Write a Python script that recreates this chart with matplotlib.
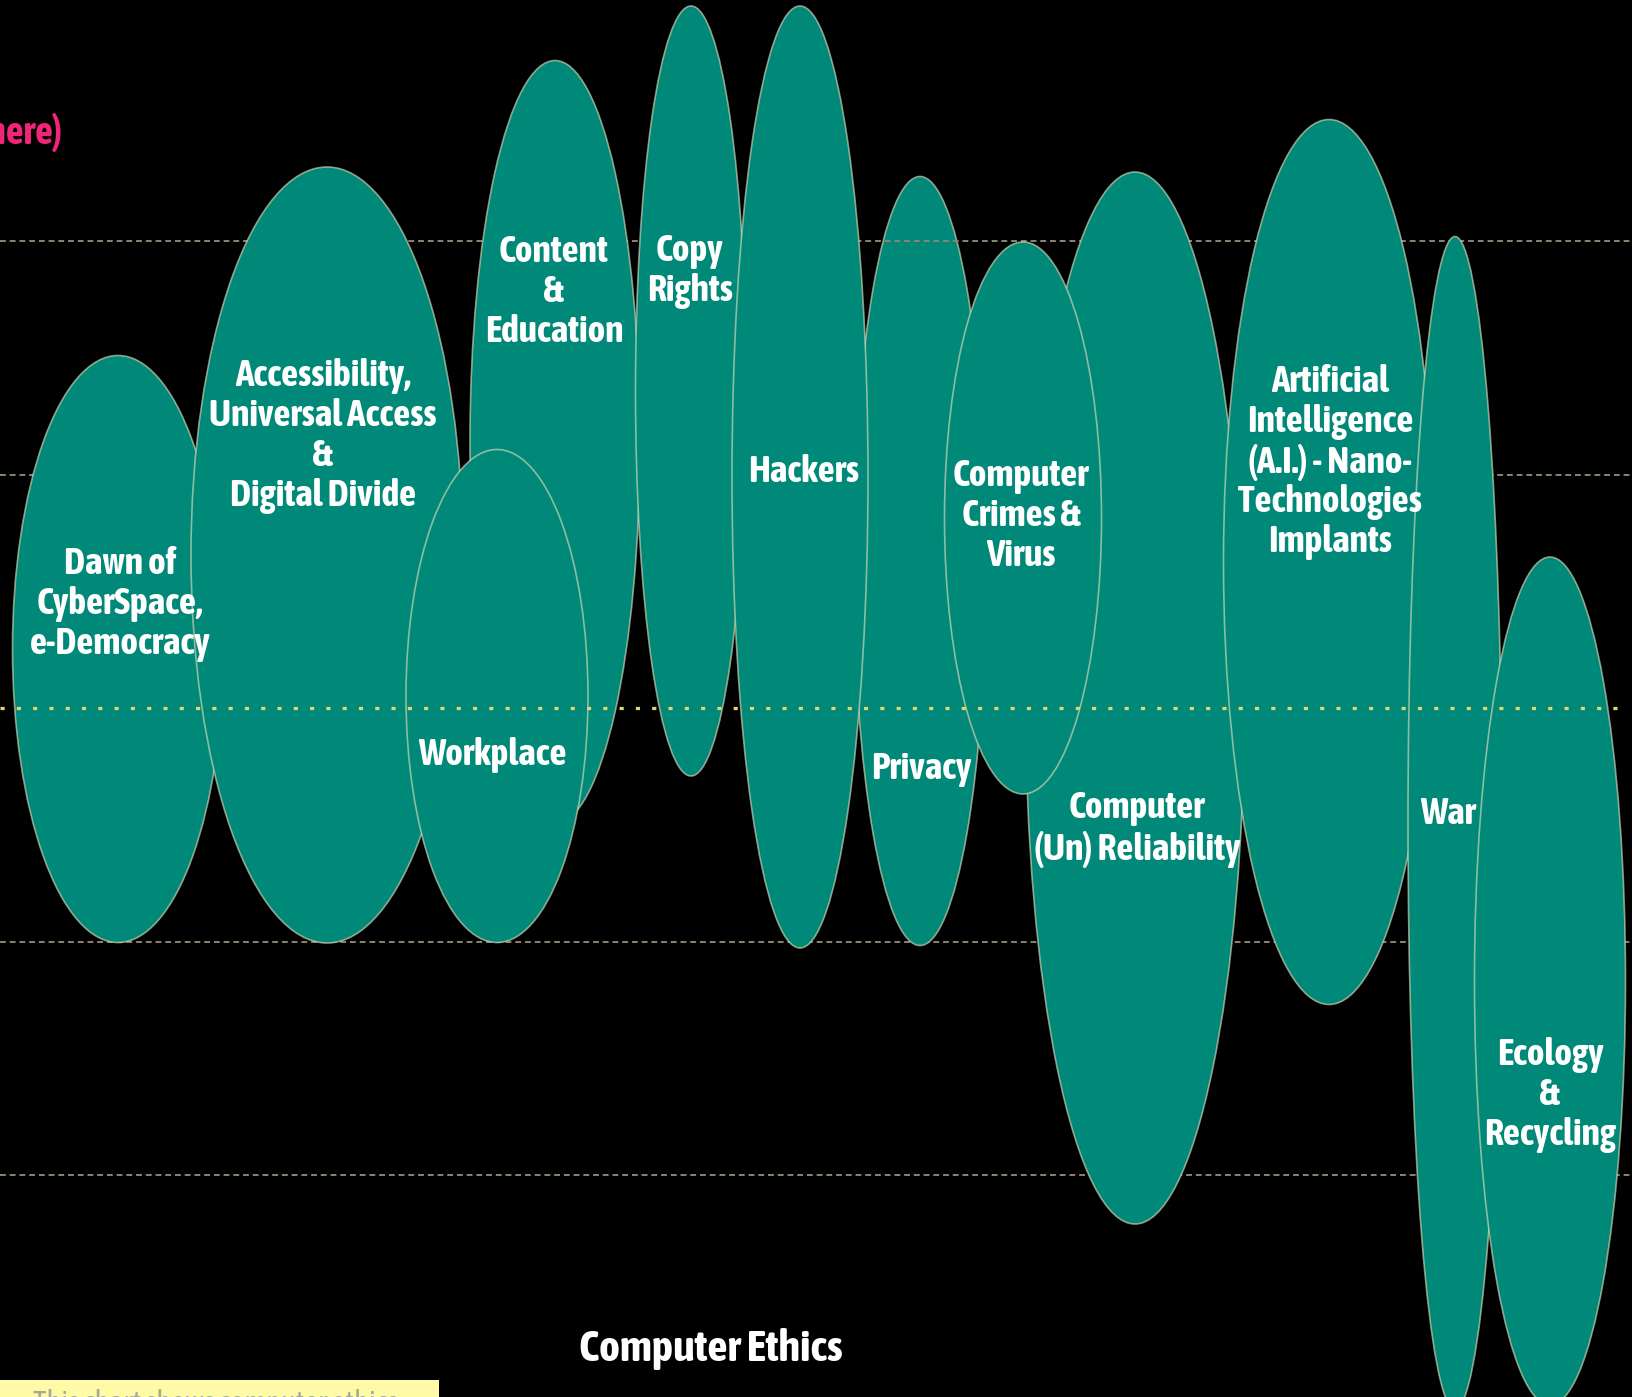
import matplotlib
matplotlib.use("Agg")
import matplotlib.pyplot as plt
from matplotlib.patches import Ellipse, Rectangle
from matplotlib import font_manager as fm

# ---- data (in pixel units of the 1633x1397 canvas) ----
topics = ["Dawn of\nCyberSpace,\ne-Democracy",
          "Accessibility,\nUniversal Access\n&\nDigital Divide",
          "Content\n&\nEducation",
          "Workplace",
          "Copy\nRights",
          "Hackers",
          "Privacy",
          "Computer\nCrimes &\nVirus",
          "Computer\n(Un) Reliability",
          "Artificial\nIntelligence\n(A.I.) - Nano-\nTechnologies\nImplants",
          "War",
          "Ecology\n&\nRecycling"]
center_x = [118, 327, 555, 497, 691, 800, 920, 1023, 1135, 1329, 1455, 1550]
center_y = [649, 555, 442, 696, 391, 477, 561, 518, 698, 562, 823, 981]
span_w = [211, 272, 170, 182, 111, 136, 133, 157, 219, 211, 94, 151]
span_h = [587, 776, 763, 493, 770, 942, 769, 552, 1052, 885, 1173, 848]
label_x = [120, 323, 554, 492, 690, 804, 921, 1021, 1137, 1330, 1448, 1550]
label_y = [604, 436, 292, 755, 271, 472, 769, 516, 829, 462, 814, 1095]
draw_order = [2, 3, 4, 5, 6, 7, 1, 9, 8, 10, 11, 12]

guide_y = [241, 475, 942, 1175]
mid_y = 708
title = "Computer Ethics"
corner_text = "(move mouse here)"
footer_text = "This chart shows computer ethics"

# ---- pick a condensed / narrow bold face if one is installed ----
cond_name = None
cond_stretch = "normal"
for f in fm.fontManager.ttflist:
    n = f.name
    if ("Narrow" in n or "Condensed" in n) and f.weight in (600, 700, 800, "bold"):
        cond_name = n
        break
if cond_name is None:
    for f in fm.fontManager.ttflist:
        if str(f.stretch).startswith("cond") or f.stretch in (300, 375):
            cond_name = f.name
            cond_stretch = "condensed"
            break
if cond_name is None:
    cond_name = "DejaVu Sans"
font = [cond_name, "DejaVu Sans"]
narrow = cond_name != "DejaVu Sans" or cond_stretch == "condensed"
fs = 27 if narrow else 20
ls = 1.14 if narrow else 1.2

W, H = 1633, 1397
fig = plt.figure(figsize=(W / 100, H / 100), dpi=100, facecolor="black")
ax = fig.add_axes([0, 0, 1, 1])
ax.set_xlim(0, W)
ax.set_ylim(H, 0)
ax.set_facecolor("black")
ax.axis("off")

# gray dashed guide lines: the top one crosses over "Privacy"
for k, gy in enumerate(guide_y):
    ax.axhline(gy, color="#8d8373", lw=1.4, dashes=(3, 2),
               zorder=5 if k == 0 else 1)

fill = "#008878"
edge = (0.85, 0.85, 0.72, 0.65)
for i in range(len(topics)):
    z = 3 if topics[i] == "Privacy" else 10 + draw_order[i]
    e = Ellipse((center_x[i], center_y[i]), span_w[i], span_h[i],
                facecolor=fill, edgecolor=edge, lw=1.2, zorder=z)
    ax.add_patch(e)

# yellow dotted middle line on top
ax.plot([0, 1620], [mid_y, mid_y], color="#e3d474", lw=2.3,
        dashes=(1.3, 3.8), zorder=40)

for i in range(len(topics)):
    ax.text(label_x[i], label_y[i], topics[i], color="white", fontsize=fs,
            fontweight="bold", family=font, fontstretch=cond_stretch,
            ha="center", va="center", linespacing=ls, zorder=50)

ax.text(711, 1349, title, color="white", fontsize=fs + 5, fontweight="bold",
        family=font, fontstretch=cond_stretch, ha="center", va="center",
        zorder=50)

ax.text(62, 133, corner_text, color="#f0257a", fontsize=fs + 1,
        fontweight="bold", family=font, fontstretch=cond_stretch,
        ha="right", va="center", zorder=50)

ax.add_patch(Rectangle((0, 1380), 439, 20, facecolor="#fffaa5",
                       edgecolor="none", zorder=45))
ax.text(33, 1389, footer_text, color="#a8a898", fontsize=22, family=font,
        fontstretch=cond_stretch, ha="left", va="top", zorder=50,
        clip_on=True)

fig.savefig("out.png", dpi=100, facecolor="black")
